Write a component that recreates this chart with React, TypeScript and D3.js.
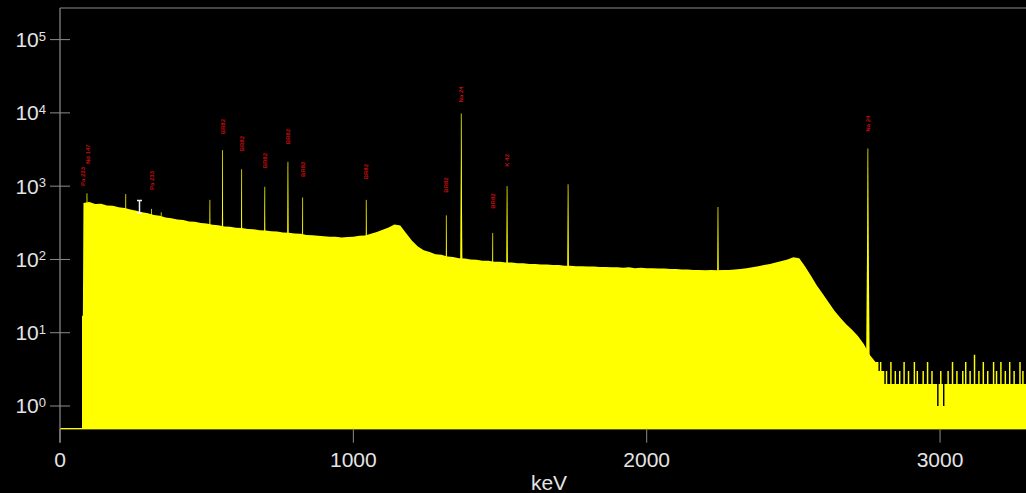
import React from 'react';
import * as d3 from 'd3';

// gamma spectrum, log counts vs keV
const W = 1026;
const H = 493;
const LEFT = 60;
const TOP = 8;
const BOTTOM = 428.7;

const kevMax = 3293;
const countMin = 0.49;
const countMax = 2.7e5;

// low energy cutoff channel
const edgeKeV = 75;
const edgeCount = 17;

// continuum, every 20 keV from 80 keV
const contStart = 80;
const contStep = 20;
const continuum = [
  590, 610, 570, 575, 545, 540, 515, 505, 480, 462,
  440, 428, 405, 396, 375, 366, 350, 345, 330, 326,
  315, 309, 298, 293, 282, 279, 270, 268, 260, 258,
  250, 248, 242, 240, 234, 232, 226, 224, 216, 214,
  210, 208, 204, 204, 200, 203, 204, 210, 212, 224,
  236, 254, 272, 300, 290, 228, 180, 150, 134, 126,
  118, 116, 110, 108, 104, 103, 100, 99, 96, 96,
  93, 93, 91, 91, 89, 89, 87, 87, 85, 85,
  84, 84, 82, 82, 81, 81, 80, 80, 79, 79,
  78, 78, 77, 78, 76, 77, 76, 76, 75, 75,
  74, 74, 73, 73, 72, 72, 71, 72, 71, 72,
  72, 73, 74, 76, 78, 81, 84, 87, 91, 95,
  100, 107, 104, 80, 60, 44, 34, 26, 20, 16,
  13, 11, 9, 7, 5, 4
];

// noisy tail, every 5 keV from 2785 keV
const tailStart = 2785;
const tailStep = 5;
const tail = [
  4, 3, 4, 3, 3, 2, 3, 2, 2, 4,
  2, 2, 3, 2, 2, 3, 2, 2, 4, 2,
  2, 3, 2, 2, 2, 4, 2, 3, 2, 2,
  2, 3, 2, 2, 4, 2, 2, 3, 2, 2,
  2, 1, 2, 3, 2, 1, 2, 2, 3, 2,
  2, 4, 2, 2, 3, 2, 2, 2, 3, 2,
  4, 2, 2, 3, 2, 2, 5, 2, 2, 3,
  2, 2, 4, 2, 2, 3, 2, 2, 2, 4,
  2, 3, 2, 2, 4, 2, 2, 3, 2, 2,
  4, 2, 2, 3, 2, 2, 2, 4, 2, 3,
  2, 2, 4
];

// peaks: energy and top count
const peakKeV = [92, 224, 312, 345, 511, 554, 619, 698, 777, 827, 1044, 1317, 1368, 1475, 1524, 1732, 2243, 2754];
const peakCount = [800, 780, 490, 440, 650, 3100, 1700, 980, 2150, 700, 650, 400, 9800, 230, 1000, 1060, 520, 3270];

// nuclide labels: name, energy, count level of the label's lower end
const labelNames = ['Pa 233', 'Nd 147', 'Pa 233', 'BR82', 'BR82', 'BR82', 'BR82', 'BR82', 'BR82', 'BR82', 'Na 24', 'BR82', 'K 42', 'Na 24'];
const labelKeV = [77, 94, 312, 554, 619, 698, 777, 827, 1044, 1317, 1368, 1475, 1524, 2754];
const labelLevel = [1005, 2006, 887, 5100, 2990, 1750, 3720, 1334, 1240, 815, 13900, 492, 1845, 5540];

const yTicks = [1, 10, 100, 1e3, 1e4, 1e5];
const xTicks = [0, 1000, 2000, 3000];

const AXIS = '#8c8c8c';
const TEXT = '#e4e4e4';
const YELLOW = '#ffff00';
const FONT = '"Liberation Sans", Arial, sans-serif';

export default function App() {
  const x = d3.scaleLinear().domain([0, kevMax]).range([LEFT, W]);
  const y = d3.scaleLog().domain([countMin, countMax]).range([BOTTOM, TOP]);

  const pts: [number, number][] = [];
  pts.push([edgeKeV, countMin]);
  pts.push([edgeKeV, edgeCount]);
  pts.push([contStart - 2, edgeCount]);
  continuum.forEach((c, i) => pts.push([contStart + i * contStep, c]));
  pts.push([tailStart, tail[0]]);

  const tailPts: [number, number][] = tail.map((c, i) => [tailStart + i * tailStep, c]);
  tailPts.push([kevMax + 5, tail[tail.length - 1]]);

  const area = d3
    .area<[number, number]>()
    .x(d => x(d[0]))
    .y0(BOTTOM)
    .y1(d => y(d[1]));

  const stepArea = d3
    .area<[number, number]>()
    .curve(d3.curveStepAfter)
    .x(d => x(d[0]))
    .y0(BOTTOM)
    .y1(d => y(d[1]));

  const tri = d3
    .line<[number, number]>()
    .x(d => x(d[0]))
    .y(d => y(d[1]));

  return (
    <div style={{ position: 'fixed', left: 0, top: 0, width: W, height: H, background: '#000' }}>
      <svg width={W} height={H} style={{ display: 'block' }} fontFamily={FONT}>
        <rect width={W} height={H} fill="#000" />
        <defs>
          <clipPath id="plot">
            <rect x={LEFT} y={TOP} width={W - LEFT} height={BOTTOM - TOP + 1} />
          </clipPath>
        </defs>

        <g clipPath="url(#plot)">
          <path d={area(pts) || ''} fill={YELLOW} />
          <path d={stepArea(tailPts) || ''} fill={YELLOW} />
          {peakKeV.map((e, i) => (
            <g key={'p' + i}>
              <path
                d={(tri([[e - 8, countMin], [e, peakCount[i]], [e + 8, countMin]]) || '') + 'Z'}
                fill={YELLOW}
              />
              <line
                x1={x(e)}
                x2={x(e)}
                y1={BOTTOM}
                y2={y(peakCount[i])}
                stroke={YELLOW}
                strokeOpacity={0.75}
                strokeWidth={1}
              />
            </g>
          ))}
          <line x1={LEFT} x2={W} y1={BOTTOM} y2={BOTTOM} stroke={YELLOW} strokeWidth={1.5} />
        </g>

        {/* frame */}
        <line x1={LEFT} x2={W} y1={TOP} y2={TOP} stroke={AXIS} strokeWidth={1} />
        <line x1={LEFT} x2={LEFT} y1={TOP} y2={BOTTOM + 14} stroke={AXIS} strokeWidth={1.2} />

        {/* y axis */}
        {yTicks.map((t, i) => (
          <g key={'y' + t}>
            <line x1={LEFT - 10} x2={LEFT + 10} y1={y(t)} y2={y(t)} stroke={AXIS} strokeWidth={1} />
            <text x={LEFT - 14} y={y(t) + 7.5} textAnchor="end" fill={TEXT} fontSize={21}>
              10
              <tspan fontSize={13} dy={-6.5}>{i}</tspan>
            </text>
          </g>
        ))}

        {/* x axis */}
        {xTicks.map(t => (
          <g key={'x' + t}>
            <line x1={x(t)} x2={x(t)} y1={BOTTOM} y2={BOTTOM + 14} stroke={AXIS} strokeWidth={1} />
            <text x={x(t)} y={467} textAnchor="middle" fill={TEXT} fontSize={21}>
              {t}
            </text>
          </g>
        ))}
        <text x={549} y={490} textAnchor="middle" fill={TEXT} fontSize={21}>
          keV
        </text>

        {/* nuclide labels */}
        {labelNames.map((n, i) => {
          const lx = x(labelKeV[i]);
          const ly = y(labelLevel[i]);
          return (
            <text
              key={'l' + i}
              transform={`translate(${lx + 2},${ly}) rotate(-90)`}
              fill="#c01010"
              fontSize={6}
              fontWeight="bold"
            >
              {n}
            </text>
          );
        })}

        {/* mouse cursor */}
        <path d="M137,200.5 h5 M139.5,200.5 v12.5 M137,213 h5" stroke="#f0f0f0" strokeWidth={1.5} fill="none" />
      </svg>
    </div>
  );
}
